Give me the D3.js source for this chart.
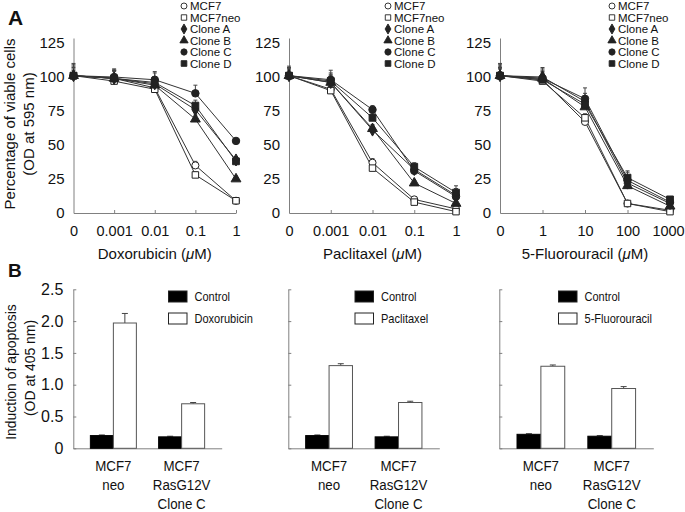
<!DOCTYPE html>
<html><head><meta charset="utf-8">
<script src="https://cdn.jsdelivr.net/npm/d3@7"></script>
<style>
body{margin:0;background:#fff}
svg{display:block}
text{font-family:"Liberation Sans",Arial,Helvetica,sans-serif;fill:#111}
</style>
</head><body>
<svg id="c" width="685" height="512"></svg>
<script>
// ---------- DATA ----------
const seriesNames = ["MCF7","MCF7neo","Clone A","Clone B","Clone C","Clone D"];
const doxoConc = ["0","0.001","0.01","0.1","1"];
const pacliConc = ["0","0.001","0.01","0.1","1"];
const fuConc = ["0","1","10","100","1000"];

const doxoMCF7   = [101, 99, 92, 35, 9];
const doxoNeo    = [101, 97, 91, 28, 9];
const doxoCloneA = [101, 99, 95, 76, 39];
const doxoCloneB = [101, 99, 94, 69, 25];
const doxoCloneC = [101,100, 98, 88, 53];
const doxoCloneD = [101, 99, 96, 79, 38];
const doxoErr = [[7,5,4,3,2],[9,8,6,2,2],[6,6,5,3,2],[8,7,6,3,2],[5,5,5,6,2],[4,6,8,4,2]];

const pacliMCF7   = [101, 91, 37, 10, 3];
const pacliNeo    = [101, 90, 33, 8, 1];
const pacliCloneA = [101, 96, 61, 32, 13];
const pacliCloneB = [101, 96, 62, 22, 7];
const pacliCloneC = [101, 98, 76, 31, 12];
const pacliCloneD = [101, 97, 70, 34, 15];
const pacliErr = [[6,4,3,2,2],[5,3,3,2,2],[4,5,3,2,3],[5,6,3,2,3],[7,7,3,3,6],[6,6,3,3,5]];

const fuMCF7   = [101, 98, 67, 7, 2];
const fuNeo    = [101, 97, 70, 7, 1];
const fuCloneA = [101,100, 82, 22, 7];
const fuCloneB = [101, 99, 78, 20, 5];
const fuCloneC = [101, 99, 84, 24, 8];
const fuCloneD = [101, 98, 80, 26, 10];
const fuErr = [[9,5,3,2,1],[7,4,3,2,1],[6,6,6,5,2],[5,5,5,5,2],[8,8,8,6,2],[5,7,5,5,2]];

const viabilityTicks = [0,25,50,75,100,125];

const barGroups = ["MCF7 neo","MCF7 RasG12V Clone C"];
const barGroupLines = [["MCF7","neo"],["MCF7","RasG12V","Clone C"]];
const barSeries = ["Control","Treated"];
const doxoControl = [0.20, 0.18], doxoTreated = [1.97, 0.70];
const doxoControlErr = [0.01, 0.01], doxoTreatedErr = [0.15, 0.02];
const pacliControl = [0.20, 0.18], pacliTreated = [1.30, 0.72];
const pacliControlErr = [0.01, 0.01], pacliTreatedErr = [0.03, 0.02];
const fuControl = [0.22, 0.19], fuTreated = [1.29, 0.94];
const fuControlErr = [0.01, 0.01], fuTreatedErr = [0.02, 0.03];
const apoptosisTicks = [0,0.5,1.0,1.5,2.0,2.5];

// ---------- DRAW ----------
const svg = d3.select("#c");
const AX = "#808080";
const INK = "#222";

const shapes = [
  {type:d3.symbolCircle, size:40, fill:"#fff"},
  {type:d3.symbolSquare, size:42, fill:"#fff"},
  {type:d3.symbolDiamond, size:42, fill:INK},
  {type:d3.symbolTriangle, size:42, fill:INK},
  {type:d3.symbolCircle, size:44, fill:INK},
  {type:d3.symbolSquare, size:46, fill:INK}
];

function linePanel(o){
  const y = d3.scaleLinear().domain([0,128.7]).range([213,38]);
  const x = d3.scalePoint().domain(o.conc).range([o.x0,o.x1]);
  const g = svg.append("g");
  const ya = g.append("g").attr("transform",`translate(${o.x0},0)`)
    .call(d3.axisLeft(y).tickValues(viabilityTicks).tickSize(0).tickPadding(9));
  const xa = g.append("g").attr("transform",`translate(0,213)`)
    .call(d3.axisBottom(x).tickSizeInner(-3).tickSizeOuter(0).tickPadding(13));
  [ya,xa].forEach(a=>{
    a.attr("font-family",null).attr("font-size",null);
    a.select(".domain").attr("stroke",AX);
    a.selectAll(".tick line").attr("stroke",AX);
    a.selectAll("text").attr("fill","#111");
  });
  ya.selectAll("text").style("font-size","15px");
  xa.selectAll("text").style("font-size","14.5px");
  xa.selectAll(".tick").filter(d=>d===o.conc[0]).select("line").remove();
  if (o.lastShift) xa.selectAll(".tick").filter(d=>d===o.conc[o.conc.length-1]).select("text").attr("dx",o.lastShift);

  const line = d3.line().x((d,i)=>x(o.conc[i])).y(d=>y(d));
  o.series.forEach(s=>{
    g.append("path").attr("d",line(s)).attr("fill","none").attr("stroke","#333").attr("stroke-width",1);
  });
  o.series.forEach((s,si)=>{
    s.forEach((v,i)=>{
      const e = o.err[si][i];
      const cx = x(o.conc[i]);
      g.append("line").attr("x1",cx).attr("x2",cx).attr("y1",y(v)).attr("y2",y(v+e)).attr("stroke","#444");
      g.append("line").attr("x1",cx-2).attr("x2",cx+2).attr("y1",y(v+e)).attr("y2",y(v+e)).attr("stroke","#444");
    });
  });
  o.series.forEach((s,si)=>{
    const sh = shapes[si];
    s.forEach((v,i)=>{
      g.append("path").attr("d",d3.symbol().type(sh.type).size(sh.size)())
        .attr("transform",`translate(${x(o.conc[i])},${y(v)})`)
        .attr("fill",sh.fill).attr("stroke",INK).attr("stroke-width",1);
    });
  });
  // legend
  seriesNames.forEach((n,i)=>{
    const ly = 6 + i*11.5;
    const sh = shapes[i];
    g.append("path").attr("d",d3.symbol().type(sh.type).size(sh.size*0.7)())
      .attr("transform",`translate(${o.lx},${ly})`)
      .attr("fill",sh.fill).attr("stroke",INK).attr("stroke-width",0.9);
    g.append("text").attr("x",o.lx+6).attr("y",ly+4).style("font-size","11.5px").text(n);
  });
  // x title
  const t = g.append("text").attr("x",(o.x0+o.x1)/2).attr("y",259).attr("text-anchor","middle").style("font-size","15px");
  t.append("tspan").text(o.title+" (");
  t.append("tspan").style("font-style","italic").text("μ");
  t.append("tspan").text("M)");
}

linePanel({x0:73.5,x1:236,conc:doxoConc,lx:184,title:"Doxorubicin",
  series:[doxoMCF7,doxoNeo,doxoCloneA,doxoCloneB,doxoCloneC,doxoCloneD],err:doxoErr});
linePanel({x0:289,x1:456,conc:pacliConc,lx:388,title:"Paclitaxel",
  series:[pacliMCF7,pacliNeo,pacliCloneA,pacliCloneB,pacliCloneC,pacliCloneD],err:pacliErr});
linePanel({x0:500,x1:670,conc:fuConc,lx:612,title:"5-Fluorouracil",lastShift:-2,
  series:[fuMCF7,fuNeo,fuCloneA,fuCloneB,fuCloneC,fuCloneD],err:fuErr});

function scaledText(g,x,y,str,size,anchor,sx){
  return g.append("text").attr("transform",`translate(${x},${y}) scale(${sx},1)`)
    .attr("text-anchor",anchor).style("font-size",size+"px").text(str);
}

function barPanel(o){
  const y = d3.scaleLinear().domain([0,2.5]).range([448.3,289.3]);
  const x = d3.scalePoint().domain(barGroups).range([o.x0,o.x1]).padding(0.587);
  const bw = (o.x1-o.x0)*0.155;
  const xs = d3.scaleBand().domain(barSeries).range([-bw,bw]).padding(0);
  const g = svg.append("g");
  const ya = g.append("g").attr("transform",`translate(${o.x0},0)`)
    .call(d3.axisLeft(y).tickValues(apoptosisTicks).tickSizeInner(-3).tickSizeOuter(0).tickPadding(10)
      .tickFormat(o.labels ? (d=>d===0?"0":d3.format(".1f")(d)) : ""));
  ya.attr("font-family",null).attr("font-size",null);
  ya.select(".domain").attr("stroke",AX);
  ya.selectAll(".tick line").attr("stroke",AX);
  ya.selectAll("text").style("font-size","16px").attr("fill","#111");
  const xa = g.append("g").attr("transform","translate(0,448.3)")
    .call(d3.axisBottom(x).tickSize(0).tickSizeOuter(0).tickFormat(""));
  xa.select(".domain").attr("stroke",AX);

  const vals = [o.control,o.treated], errs=[o.controlErr,o.treatedErr];
  barGroups.forEach((grp,gi)=>{
    barSeries.forEach((s,si)=>{
      const v = vals[si][gi], e = errs[si][gi];
      const bx = x(grp)+xs(s);
      const cx = bx + xs.bandwidth()/2;
      g.append("line").attr("x1",cx).attr("x2",cx).attr("y1",y(v)).attr("y2",y(v+e)).attr("stroke","#444");
      g.append("line").attr("x1",cx-3).attr("x2",cx+3).attr("y1",y(v+e)).attr("y2",y(v+e)).attr("stroke","#444");
      g.append("rect").attr("x",bx).attr("y",y(v)).attr("width",xs.bandwidth()).attr("height",y(0)-y(v))
        .attr("fill",si===0?"#000":"#fff").attr("stroke",si===0?"#000":"#555").attr("stroke-width",1);
    });
    barGroupLines[gi].forEach((ln,li)=>{
      scaledText(g,x(grp),471+li*18.8,ln,15.5,"middle",0.86);
    });
  });
  // legend
  [["Control","#000"],[o.name,"#fff"]].forEach((d,i)=>{
    const ly = 291 + i*22;
    g.append("rect").attr("x",o.lx).attr("y",ly).attr("width",18.5).attr("height",11)
      .attr("fill",d[1]).attr("stroke","#222").attr("stroke-width",1);
    scaledText(g,o.lx+26,ly+10,d[0],13,"start",0.85);
  });
}

barPanel({x0:73.3,x1:221.7,labels:true,lx:168.5,name:"Doxorubicin",
  control:doxoControl,treated:doxoTreated,controlErr:doxoControlErr,treatedErr:doxoTreatedErr});
barPanel({x0:288.3,x1:439.3,labels:false,lx:355,name:"Paclitaxel",
  control:pacliControl,treated:pacliTreated,controlErr:pacliControlErr,treatedErr:pacliTreatedErr});
barPanel({x0:499.3,x1:653.3,labels:false,lx:558.5,name:"5-Fluorouracil",
  control:fuControl,treated:fuTreated,controlErr:fuControlErr,treatedErr:fuTreatedErr});

// axis titles
function vTitle(cx,cy,str,size,sx){
  svg.append("text").attr("transform",`translate(${cx},${cy}) rotate(-90) scale(${sx},1)`)
    .attr("text-anchor","middle").attr("dy","0.35em").style("font-size",size+"px").text(str);
}
vTitle(10,124,"Percentage of viable cells",15,1);
vTitle(29,124,"(OD at 595 nm)",15,1);
vTitle(11,372,"Induction of apoptosis",15.5,0.9);
vTitle(30,368,"(OD at 405 nm)",15.5,0.9);

svg.append("text").attr("x",8).attr("y",25).style("font-size","21px").style("font-weight","bold").text("A");
svg.append("text").attr("x",8).attr("y",277).style("font-size","19px").style("font-weight","bold").text("B");
</script>
</body></html>
